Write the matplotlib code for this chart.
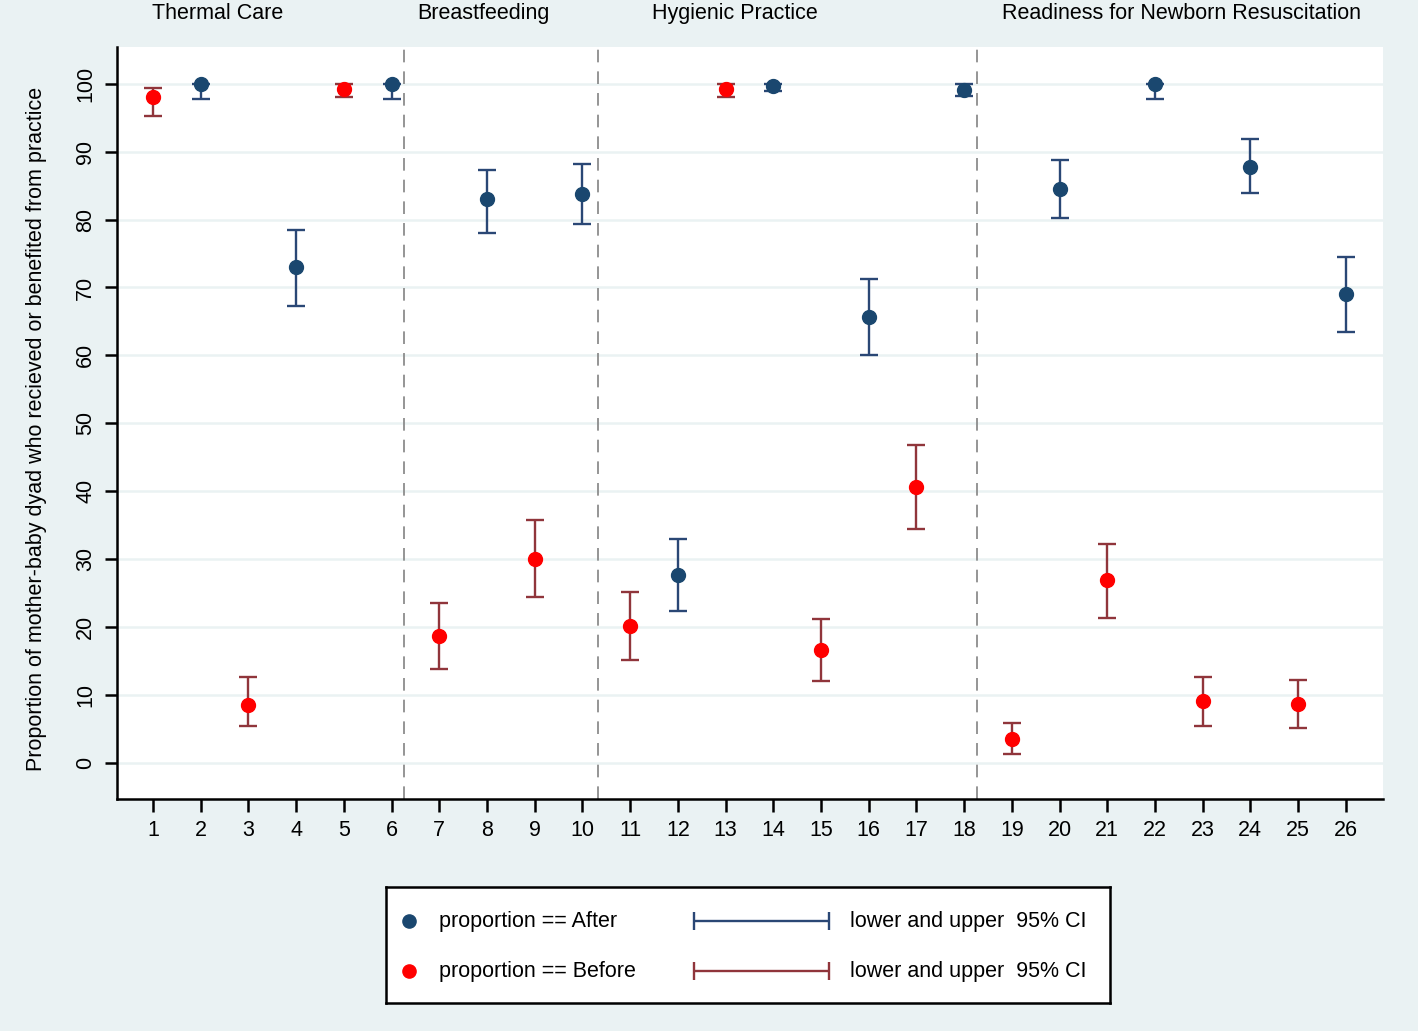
import matplotlib
matplotlib.use("Agg")
import matplotlib.pyplot as plt
import numpy as np

plt.rcParams['font.family'] = ['Liberation Sans', 'DejaVu Sans']

# Data
items = list(range(1, 27))
group = ['Before', 'After', 'Before', 'After', 'Before', 'After',
         'Before', 'After', 'Before', 'After',
         'Before', 'After', 'Before', 'After', 'Before', 'After', 'Before', 'After',
         'Before', 'After', 'Before', 'After', 'Before', 'After', 'Before', 'After']
proportion = [98.1, 100, 8.5, 73.0, 99.2, 100,
              18.7, 83.0, 30.1, 83.7,
              20.2, 27.7, 99.2, 99.6, 16.7, 65.7, 40.7, 99.1,
              3.6, 84.5, 26.9, 100, 9.1, 87.8, 8.7, 69.0]
lower = [95.3, 97.7, 5.4, 67.3, 98.0, 97.7,
         13.8, 78.0, 24.4, 79.4,
         15.2, 22.4, 98.0, 98.9, 12.1, 60.1, 34.5, 98.2,
         1.3, 80.3, 21.4, 97.7, 5.5, 83.9, 5.2, 63.5]
upper = [99.4, 100, 12.7, 78.5, 100, 100,
         23.6, 87.3, 35.8, 88.2,
         25.1, 33.0, 100, 100, 21.2, 71.3, 46.8, 100,
         5.9, 88.8, 32.3, 100, 12.7, 91.8, 12.2, 74.5]
section_titles = ['Thermal Care', 'Breastfeeding', 'Hygienic Practice',
                  'Readiness for Newborn Resuscitation']
section_title_x = [2.36, 7.92, 13.2, 22.56]
section_dividers = [6.26, 10.33, 18.27]
y_ticks = [0, 10, 20, 30, 40, 50, 60, 70, 80, 90, 100]

BG = '#eaf2f3'
NAVY = '#1a476f'
NAVY_CI = '#2a4775'
RED = '#ff0000'
RED_CI = '#90353b'
FS = 15.5

fig = plt.figure(figsize=(14.18, 10.31), dpi=100)
fig.patch.set_facecolor(BG)
W, H = 1418, 1031
ax = fig.add_axes([117 / W, 1 - 799 / H, (1383 - 117) / W, (799 - 47) / H])
ax.set_facecolor('white')

x = np.array(items)
p = np.array(proportion)
lo = np.array(lower)
up = np.array(upper)
g = np.array(group)

for name, mc, cc in [('After', NAVY, NAVY_CI), ('Before', RED, RED_CI)]:
    m = g == name
    ax.errorbar(x[m], p[m], yerr=[p[m] - lo[m], up[m] - p[m]], fmt='none',
                ecolor=cc, elinewidth=1.7, capsize=6.5, capthick=1.7, zorder=3)
    ax.plot(x[m], p[m], 'o', color=mc, markersize=10, zorder=4, linestyle='none')

for d in section_dividers:
    ax.axvline(d, color='#8c8c8c', linestyle=(0, (7, 5)), linewidth=1.3, zorder=2)

ax.set_xlim(0.245, 26.78)
ax.set_ylim(-5.3, 105.4)
ax.set_xticks(items)
ax.set_xticklabels([str(i) for i in items], fontsize=FS)
ax.set_yticks(y_ticks)
ax.set_yticklabels([str(v) for v in y_ticks], fontsize=FS, rotation=90, va='center')
ax.grid(axis='y', color=BG, linewidth=1.8, zorder=0)
ax.set_axisbelow(True)
ax.tick_params(axis='both', direction='out', length=9, width=1.8, color='black', pad=6)
for s in ['top', 'right']:
    ax.spines[s].set_visible(False)
for s in ['left', 'bottom']:
    ax.spines[s].set_linewidth(1.8)
ax.set_ylabel('Proportion of mother-baby dyad who recieved or benefited from practice',
              fontsize=FS)
ax.yaxis.set_label_coords(-0.0632, 0.492)
ax.yaxis.label.set_verticalalignment('center')

for t, tx in zip(section_titles, section_title_x):
    ax.text(tx, 1.045, t, transform=ax.get_xaxis_transform(), ha='center', va='center',
            fontsize=FS, clip_on=False)

# Legend box
lx0, ly0, lx1, ly1 = 386, 887, 1110, 1003
lax = fig.add_axes([lx0 / W, 1 - ly1 / H, (lx1 - lx0) / W, (ly1 - ly0) / H])
lax.set_xlim(0, lx1 - lx0)
lax.set_ylim(ly1 - ly0, 0)
lax.set_xticks([])
lax.set_yticks([])
lax.set_facecolor('white')
for s in lax.spines.values():
    s.set_linewidth(1.8)
    s.set_color('black')
rows = [(34, NAVY, NAVY_CI, 'proportion == After'),
        (84, RED, RED_CI, 'proportion == Before')]
for yy, mc, cc, lab in rows:
    lax.plot([23], [yy], 'o', color=mc, markersize=9.5)
    lax.text(53, yy, lab, va='center', ha='left', fontsize=FS)
    lax.errorbar([375.5], [yy], xerr=[[67.5], [67.5]], fmt='none', ecolor=cc,
                 elinewidth=1.7, capsize=6.5, capthick=1.7)
    lax.text(464, yy, 'lower and upper  95% CI', va='center', ha='left', fontsize=FS)

fig.savefig('out.png', dpi=100, facecolor=BG)
